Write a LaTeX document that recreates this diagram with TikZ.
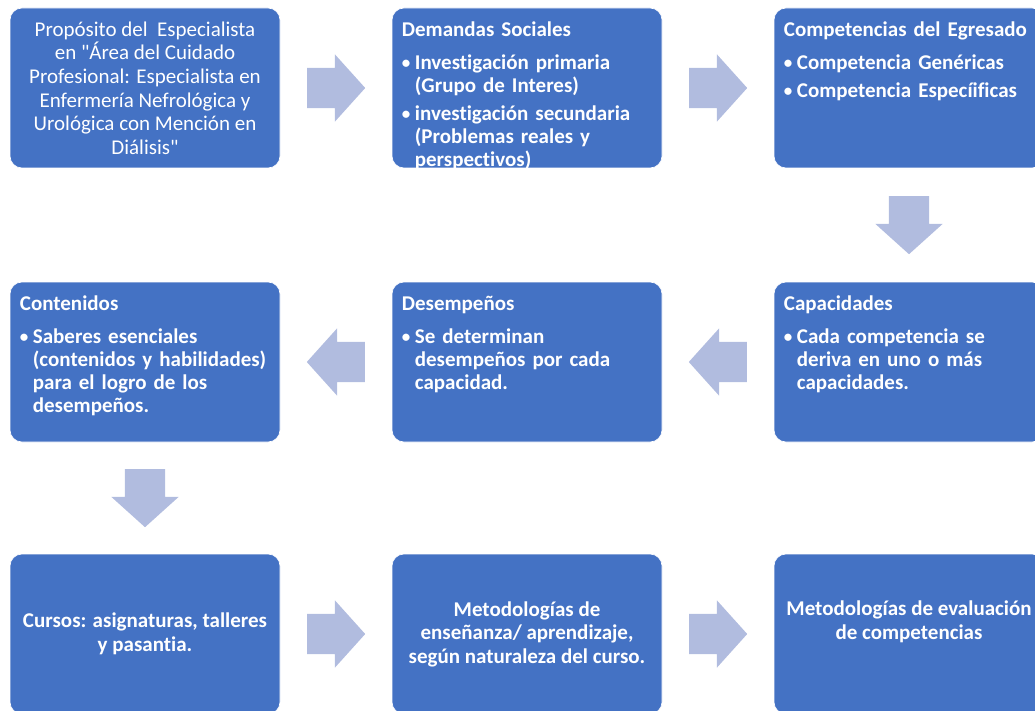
\documentclass[tikz,border=0pt]{standalone}
\usepackage{fontspec}
\setmainfont{Carlito}[Ligatures = {TeX, NoCommon}]
\usetikzlibrary{shapes.arrows,calc}

\definecolor{cajaazul}{RGB}{68,114,196}
\definecolor{flechaazul}{RGB}{177,188,223}

% Bullet with hanging indent for the lists inside the boxes.
\newcommand{\vineta}[1]{\par\vspace{5pt}\noindent\hangindent=13pt\hangafter=1%
    \makebox[13pt][l]{\raisebox{0.8pt}{\fontsize{17}{17}\selectfont\textbullet}}#1}

\begin{document}
\begin{tikzpicture}[%
        x = 1pt, y = -1pt,
        caja/.style = {draw = white, line width = 0.6pt, fill = cajaazul,
            rounded corners = 12pt, minimum width = 270pt,
            minimum height = 160pt, inner sep = 0pt},
        lista/.style = {text = white, text width = 252pt,
            inner sep = 0pt, anchor = north west,
            font = \fontsize{21}{23}\selectfont\bfseries\raggedright},
        centrado/.style = {text = white, align = center, inner sep = 0pt,
            font = \fontsize{21}{23.5}\selectfont\bfseries},
        flecha/.style = {single arrow, fill = flechaazul, draw = none,
            minimum height = 58pt, inner xsep = 0pt, inner ysep = 20pt,
            single arrow head extend = 13.5pt, single arrow tip angle = 96,
            anchor = tail}
    ]

        % Page size as in the reference.
        \useasboundingbox (0, 0) rectangle (1035, 711);
        \clip (0, 0) rectangle (1035, 711);

        % The nine boxes, three rows of three.
        \node[caja] (b1) at (145, 88) {};
        \node[caja] (b2) at (527, 88) {};
        \node[caja] (b3) at (909, 88) {};
        \node[caja] (b4) at (145, 362) {};
        \node[caja] (b5) at (527, 362) {};
        \node[caja] (b6) at (909, 362) {};
        \node[caja] (b7) at (145, 634) {};
        \node[caja] (b8) at (527, 634) {};
        \node[caja] (b9) at (909, 634) {};

        % Texts of the first row.
        \node[centrado, font = \fontsize{21}{23.6}\selectfont] (t1) at (b1)
            {Propósito del~ Especialista\\en \textquotedbl Área del Cuidado\\Profesional: Especialista en\\Enfermería Nefrológica y\\Urológica con Mención en\\Diálisis\textquotedbl};
        \node[lista] (t2) at ([xshift = 10pt, yshift = -14pt] b2.north west)
            {Demandas Sociales\par\vspace{5pt}
             \vineta{Investigación primaria\newline(Grupo de Interes)}
             \vineta{investigación secundaria\newline(Problemas reales y\newline perspectivos)}\par};
        \node[lista] (t3) at ([xshift = 10pt, yshift = -14pt] b3.north west)
            {Competencias del Egresado\par\vspace{5pt}
             \vineta{Competencia Genéricas}
             \vineta{Competencia Especíificas}\par};

        % Texts of the second row.
        \node[lista] (t4) at ([xshift = 10pt, yshift = -14pt] b4.north west)
            {Contenidos\par\vspace{5pt}
             \vineta{Saberes esenciales\newline(contenidos y habilidades)\newline para el logro de los\newline desempeños.}\par};
        \node[lista] (t5) at ([xshift = 10pt, yshift = -14pt] b5.north west)
            {Desempeños\par\vspace{5pt}
             \vineta{Se determinan\newline desempeños por cada\newline capacidad.}\par};
        \node[lista] (t6) at ([xshift = 10pt, yshift = -14pt] b6.north west)
            {Capacidades\par\vspace{5pt}
             \vineta{Cada competencia se\newline deriva en uno o más\newline capacidades.}\par};

        % Texts of the third row.
        \node[centrado] (t7) at (b7) {Cursos: asignaturas, talleres\\y pasantia.};
        \node[centrado] (t8) at (b8) {Metodologías de\\enseñanza/ aprendizaje,\\según naturaleza del curso.};
        \node[centrado] (t9) at ([yshift = 12pt] b9.center) {Metodologías de evaluación\\de competencias};

        % Block arrows between the boxes, placed by their tails.
        \node[flecha] (f12) at ([xshift = -29pt] $(b1.east)!0.5!(b2.west)$) {};
        \node[flecha] (f23) at ([xshift = -29pt] $(b2.east)!0.5!(b3.west)$) {};
        \node[flecha, rotate = -90] (f36) at ([yshift = 29pt] $(b3.south)!0.5!(b6.north)$) {};
        \node[flecha, rotate = 180] (f65) at ([xshift = 29pt] $(b6.west)!0.5!(b5.east)$) {};
        \node[flecha, rotate = 180] (f54) at ([xshift = 29pt] $(b5.west)!0.5!(b4.east)$) {};
        \node[flecha, rotate = -90] (f47) at ([yshift = 29pt] $(b4.south)!0.5!(b7.north)$) {};
        \node[flecha] (f78) at ([xshift = -29pt] $(b7.east)!0.5!(b8.west)$) {};
        \node[flecha] (f89) at ([xshift = -29pt] $(b8.east)!0.5!(b9.west)$) {};
    \end{tikzpicture}
\end{document}
